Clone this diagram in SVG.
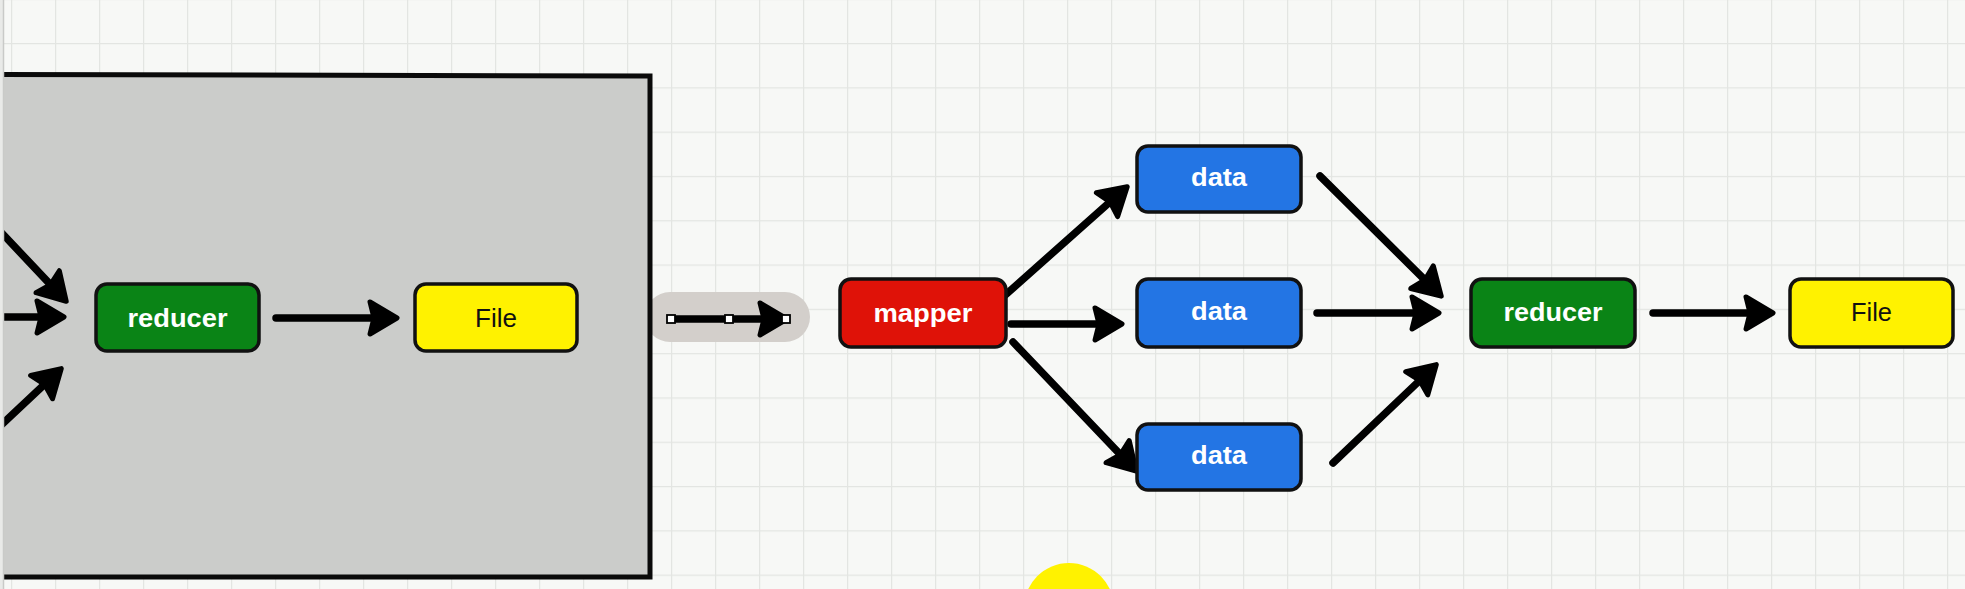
<svg xmlns="http://www.w3.org/2000/svg" width="1965" height="589" viewBox="0 0 1965 589">
<defs>
<pattern id="grid" x="11" y="43" width="44" height="44.3" patternUnits="userSpaceOnUse">
<path d="M0,0 V44.3 M0,0 H44" fill="none" stroke="#e3e5e2" stroke-width="2.5"/>
</pattern>
<marker id="ah" viewBox="0 0 32 38" markerWidth="32" markerHeight="38" markerUnits="userSpaceOnUse" refX="17" refY="19" orient="auto" overflow="visible">
<path d="M3,3 L30,19 L3,35 L7,19 Z" style="fill:#000;stroke:#000;stroke-width:5;stroke-linejoin:round"/>
</marker>
<style>
.box{stroke:#111;stroke-width:3.5}
.green{fill:#0a8416}
.yellow{fill:#fff200}
.blue{fill:#2375e4}
.red{fill:#df1208}
.wt{fill:#fff;font-family:"Liberation Sans",Arial,sans-serif;font-weight:bold;font-size:25px;text-anchor:middle}
.bt{fill:#111;font-family:"Liberation Sans",Arial,sans-serif;font-size:25px;text-anchor:middle}
.ar{stroke:#000;stroke-width:7.5;stroke-linecap:round;marker-end:url(#ah)}
</style>
</defs>
<rect width="1965" height="589" fill="#f7f8f6"/>
<rect width="1965" height="589" fill="url(#grid)"/>
<g id="selection-halo">
<rect x="645" y="292" width="165" height="50" rx="25" fill="#d3cfcb"/>
</g>
<g id="container">
<path d="M4,75 L650,76 L650,577 L4,577 Z" fill="#cbccca"/>
<path d="M0,74.5 L650,76 L650,577 L0,577" fill="none" stroke="#0a0a0a" stroke-width="5"/>
</g>
<g id="connectors">
<line class="ar" x1="-2" y1="229" x2="57.3" y2="291.9"/>
<line class="ar" x1="-2" y1="317" x2="51" y2="317"/>
<line class="ar" x1="-2" y1="428" x2="51.8" y2="377.5"/>
<line class="ar" x1="276" y1="318" x2="384" y2="318"/>
<line class="ar" x1="671" y1="319" x2="774" y2="319"/>
<line class="ar" x1="1003" y1="297" x2="1117.5" y2="195.3"/>
<line class="ar" x1="1011" y1="324" x2="1109" y2="324"/>
<line class="ar" x1="1013" y1="342" x2="1127.3" y2="461.8"/>
<line class="ar" x1="1320" y1="176" x2="1432" y2="287"/>
<line class="ar" x1="1317" y1="313" x2="1426" y2="313"/>
<line class="ar" x1="1333" y1="463" x2="1426.9" y2="373.6"/>
<line class="ar" x1="1653" y1="313" x2="1760" y2="313"/>
<g fill="#fff" stroke="#000" stroke-width="1.8">
<rect x="667" y="315" width="8" height="8"/>
<rect x="725" y="315" width="8" height="8"/>
<rect x="782" y="315" width="8" height="8"/>
</g>
</g>
<rect x="0" y="0" width="3" height="589" fill="#e9eae8"/>
<line x1="3.5" y1="0" x2="3.5" y2="589" stroke="#c9cac8" stroke-width="1.5"/>
<g id="reducer-left">
<rect class="box green" x="96" y="284" width="163" height="67" rx="11"/>
<text class="wt" x="177.5" y="327" textLength="100" lengthAdjust="spacingAndGlyphs">reducer</text>
</g>
<g id="file-left">
<rect class="box yellow" x="415" y="284" width="162" height="67" rx="11"/>
<text class="bt" x="496" y="327" textLength="42" lengthAdjust="spacingAndGlyphs">File</text>
</g>
<g id="mapper">
<rect class="box red" x="840" y="279" width="166" height="68" rx="11"/>
<text class="wt" x="923" y="322" textLength="99" lengthAdjust="spacingAndGlyphs">mapper</text>
</g>
<g id="data-top">
<rect class="box blue" x="1137" y="146" width="164" height="66" rx="11"/>
<text class="wt" x="1219" y="186" textLength="56" lengthAdjust="spacingAndGlyphs">data</text>
</g>
<g id="data-mid">
<rect class="box blue" x="1137" y="279" width="164" height="68" rx="11"/>
<text class="wt" x="1219" y="320" textLength="56" lengthAdjust="spacingAndGlyphs">data</text>
</g>
<g id="data-bottom">
<rect class="box blue" x="1137" y="424" width="164" height="66" rx="11"/>
<text class="wt" x="1219" y="464" textLength="56" lengthAdjust="spacingAndGlyphs">data</text>
</g>
<g id="reducer-right">
<rect class="box green" x="1471" y="279" width="164" height="68" rx="11"/>
<text class="wt" x="1553" y="321" textLength="99" lengthAdjust="spacingAndGlyphs">reducer</text>
</g>
<g id="file-right">
<rect class="box yellow" x="1790" y="279" width="163" height="68" rx="11"/>
<text class="bt" x="1871.5" y="321" textLength="41" lengthAdjust="spacingAndGlyphs">File</text>
</g>
<g id="cursor-highlight">
<circle cx="1069" cy="608" r="45" fill="#fff200"/>
</g>
</svg>
